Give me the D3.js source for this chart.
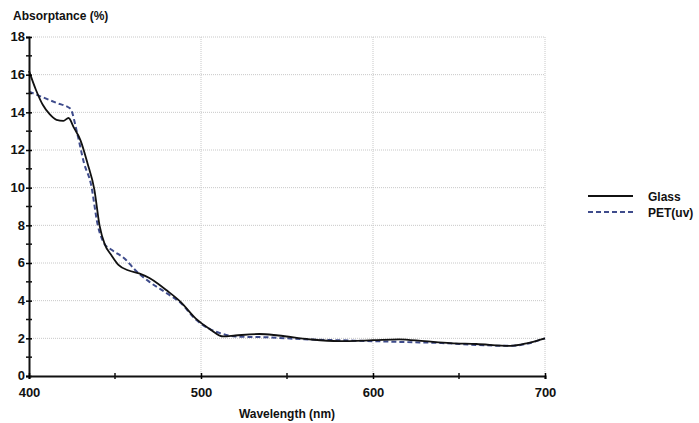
<!DOCTYPE html>
<html>
<head>
<style>
  body { margin: 0; background: #fff; }
  text { font-family: "Liberation Sans", Arial, sans-serif; fill: #111; }
  .tick-label { font-size: 13px; font-weight: bold; }
  .title { font-size: 12px; font-weight: bold; }
</style>
<script src="https://cdn.jsdelivr.net/npm/d3@7"></script>
</head>
<body>
<script>
// wavelength (nm) and absorptance (%)
const glassWl = [400, 404, 408, 412, 416, 420, 423, 426, 430, 434, 438, 441, 444, 448, 452, 458, 464, 470, 475, 480, 488, 497, 505, 513, 520, 534, 545, 563, 580, 600, 615, 630, 645, 660, 680, 690, 700];
const glassAbs = [16.2, 15.2, 14.4, 13.9, 13.6, 13.55, 13.7, 13.2, 12.5, 11.3, 9.9, 8.0, 7.0, 6.4, 5.9, 5.6, 5.45, 5.2, 4.9, 4.55, 3.95, 3.05, 2.5, 2.1, 2.15, 2.23, 2.15, 1.95, 1.85, 1.9, 1.95, 1.85, 1.75, 1.7, 1.6, 1.75, 2.0];
const petWl = [400, 408, 416, 424, 428, 432, 436, 440, 444, 448, 456, 462, 470, 480, 488, 497, 505, 512, 520, 540, 560, 580, 600, 620, 640, 660, 680, 700];
const petAbs = [15.1, 14.8, 14.5, 14.2, 12.9, 11.3, 10.2, 8.0, 7.0, 6.7, 6.2, 5.6, 5.0, 4.4, 3.9, 3.0, 2.5, 2.25, 2.1, 2.05, 1.95, 1.9, 1.85, 1.8, 1.75, 1.65, 1.6, 2.0];
const seriesNames = ["Glass", "PET(uv)"];
const xTicks = [400, 500, 600, 700];
const xMinor = [450, 550, 650];
const yTicks = [0, 2, 4, 6, 8, 10, 12, 14, 16, 18];
const yMinor = [1, 3, 5, 7, 9, 11, 13, 15, 17];

const w = 699, h = 423;
const plotLeft = 29, plotRight = 545, plotTop = 37, plotBottom = 376;

const svg = d3.select("body").append("svg")
  .attr("width", w).attr("height", h);

const x = d3.scaleLinear().domain([400, 700]).range([plotLeft, plotRight]);
const y = d3.scaleLinear().domain([0, 18]).range([plotBottom, plotTop]);

// gridlines
svg.append("g").selectAll("line")
  .data(yTicks.filter(d => d > 0))
  .enter().append("line")
  .attr("x1", plotLeft).attr("x2", plotRight)
  .attr("y1", d => y(d)).attr("y2", d => y(d))
  .attr("stroke", "#c8c8c8").attr("stroke-dasharray", "1,1");
svg.append("g").selectAll("line")
  .data(xTicks.filter(d => d > 400))
  .enter().append("line")
  .attr("x1", d => x(d)).attr("x2", d => x(d))
  .attr("y1", plotTop).attr("y2", plotBottom)
  .attr("stroke", "#c8c8c8").attr("stroke-dasharray", "1,1");

// curves
const line = d3.line().curve(d3.curveMonotoneX)
  .x(d => x(d[0])).y(d => y(d[1]));
const petPts = petWl.map((d, i) => [d, petAbs[i]]);
const glassPts = glassWl.map((d, i) => [d, glassAbs[i]]);

svg.append("path").datum(petPts).attr("d", line)
  .attr("fill", "none").attr("stroke", "#3f4c8c")
  .attr("stroke-width", 2).attr("stroke-dasharray", "5,3");
svg.append("path").datum(glassPts).attr("d", line)
  .attr("fill", "none").attr("stroke", "#111")
  .attr("stroke-width", 1.8);

// axes
const yAxis = d3.axisLeft(y).tickValues(yTicks).tickSize(3).tickPadding(2).tickFormat(d3.format("d"));
const gy = svg.append("g").attr("transform", "translate(" + plotLeft + ",0)").call(yAxis);
gy.select(".domain").attr("stroke", "#111").attr("stroke-width", 2);
gy.selectAll(".tick line").attr("x2", 3).attr("x1", -3).attr("stroke-width", 1.5);
gy.selectAll(".tick text").attr("class", "tick-label").attr("x", -4).attr("dy", "0.3em");
gy.append("g").selectAll("line").data(yMinor).enter().append("line")
  .attr("x1", -3).attr("x2", 3).attr("y1", d => y(d)).attr("y2", d => y(d))
  .attr("stroke", "#111").attr("stroke-width", 1.5);

const xAxis = d3.axisBottom(x).tickValues(xTicks).tickSize(3).tickFormat(d3.format("d"));
const gx = svg.append("g").attr("transform", "translate(0," + plotBottom + ")").call(xAxis);
gx.select(".domain").attr("stroke", "#111").attr("stroke-width", 2);
gx.selectAll(".tick line").attr("y1", -3).attr("y2", 3).attr("stroke-width", 1.5);
gx.selectAll(".tick text").attr("class", "tick-label").attr("y", 12);
gx.append("g").selectAll("line").data(xMinor).enter().append("line")
  .attr("x1", d => x(d)).attr("x2", d => x(d)).attr("y1", -3).attr("y2", 3)
  .attr("stroke", "#111").attr("stroke-width", 1.5);

// titles
svg.append("text").attr("class", "title").attr("x", 13).attr("y", 20).text("Absorptance (%)");
svg.append("text").attr("class", "title").attr("x", x(550)).attr("y", 418)
  .attr("text-anchor", "middle").text("Wavelength (nm)");

// legend
const legend = svg.append("g");
const legY = [196, 212];
legend.selectAll("line").data(seriesNames).enter().append("line")
  .attr("x1", 588).attr("x2", 633)
  .attr("y1", (d, i) => legY[i]).attr("y2", (d, i) => legY[i])
  .attr("stroke", (d, i) => i === 0 ? "#111" : "#3f4c8c")
  .attr("stroke-width", (d, i) => i === 0 ? 1.8 : 2)
  .attr("stroke-dasharray", (d, i) => i === 0 ? null : "5,3");
legend.selectAll("text").data(seriesNames).enter().append("text")
  .attr("class", "title").attr("x", 648)
  .attr("y", (d, i) => legY[i] + 5).text(d => d);
</script>
</body>
</html>
